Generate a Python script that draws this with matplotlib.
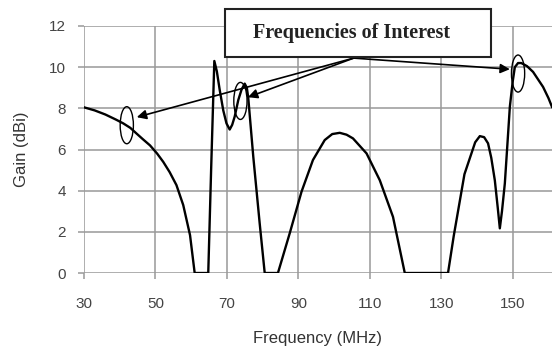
import numpy as np
import matplotlib
matplotlib.use('Agg')
import matplotlib.pyplot as plt
from matplotlib.patches import Ellipse, Rectangle

# 주파수별 이득
freq = [30, 33, 36, 39, 41, 43, 44.7, 46.5, 48.5, 50.5, 52.2, 54, 55.9, 57.8, 59.7, 61.0,
        64.8, 65.6, 66.5, 67.2, 68.0, 69.0, 69.9, 70.8, 71.5, 72.2, 73.2, 74.1, 75.0, 75.6,
        76.0, 77.4, 79.2, 80.6,
        84.3, 87.6, 90.9, 94.1, 97.4, 99.5, 101.6, 103.5, 105.3, 109.1, 112.8, 116.5, 119.8,
        131.9, 133.5, 136.5, 139.5, 140.8, 142, 143.1, 144, 145.0, 145.8, 146.4, 147.0,
        147.8, 148.5, 149.2, 150.0, 150.6, 151.5, 152.4, 154, 155.7, 158.5, 160, 161]
gain = [8.05, 7.9, 7.7, 7.45, 7.27, 7.05, 6.78, 6.5, 6.2, 5.8, 5.4, 4.9, 4.27, 3.3, 1.84, 0.0,
        0.0, 5.0, 10.3, 9.8, 8.9, 7.9, 7.27, 6.97, 7.2, 7.6, 8.4, 8.9, 9.2, 9.0,
        8.5, 5.65, 2.4, 0.0,
        0.0, 1.93, 3.95, 5.49, 6.46, 6.75, 6.81, 6.72, 6.54, 5.81, 4.51, 2.73, 0.0,
        0.0, 1.8, 4.8, 6.35, 6.65, 6.6, 6.3, 5.6, 4.5, 3.2, 2.17, 3.0,
        4.35, 6.2, 8.07, 9.3, 10.0, 10.2, 10.2, 10.05, 9.77, 9.04, 8.5, 8.07]

xticks = [30, 50, 70, 90, 110, 130, 150]
yticks = [0, 2, 4, 6, 8, 10, 12]

# 관심 주파수 (타원 위치)
mark_f = [42.0, 73.8, 151.5]
mark_g = [7.18, 8.36, 9.69]
arrow_tips = [(44.8, 7.57), (75.9, 8.54), (149.2, 9.9)]
arrow_from = (105.5, 10.44)

plt.rcParams['font.family'] = ['Liberation Sans', 'DejaVu Sans']

fig = plt.figure(figsize=(5.52, 3.58), dpi=100)
ax = fig.add_axes([0.152, 0.2374, 0.848, 0.690])

ax.plot(freq, gain, color='black', linewidth=1.7, zorder=3)
ax.set_xlim(30, 161)
ax.set_ylim(0, 12)
ax.set_xticks(xticks)
ax.set_yticks(yticks)
ax.grid(True, color='#999999', linewidth=1.1)
for s in ax.spines.values():
    s.set_visible(False)
ax.tick_params(colors='#999999', length=4, width=1.1, labelcolor='#444444',
               labelsize=11, pad=9)
ax.tick_params(axis='x', pad=13)
ax.set_xlabel('Frequency (MHz)', fontsize=12, color='#333333', labelpad=15)
ax.set_ylabel('Gain (dBi)', fontsize=12, color='#333333', labelpad=14)

for f, g in zip(mark_f, mark_g):
    ax.add_patch(Ellipse((f, g), 3.7, 1.8, fill=False, edgecolor='black',
                         linewidth=1.0, zorder=4))

for tip in arrow_tips:
    ax.annotate('', xy=tip, xytext=arrow_from, annotation_clip=False,
                arrowprops=dict(arrowstyle='-|>', color='black', lw=1.2,
                                mutation_scale=14, shrinkA=0, shrinkB=0),
                zorder=5)

# 텍스트 상자
fig.add_artist(Rectangle((0.4076, 0.8408), 0.4819, 0.1341, transform=fig.transFigure,
                         facecolor='white', edgecolor='#222222', linewidth=1.5, zorder=6))
fig.text(0.6377, 0.9078, 'Frequencies of Interest', ha='center', va='center',
         fontsize=14.5, fontweight='bold', family='Liberation Serif', color='#222222',
         zorder=7)

fig.savefig('out.png', dpi=100)
